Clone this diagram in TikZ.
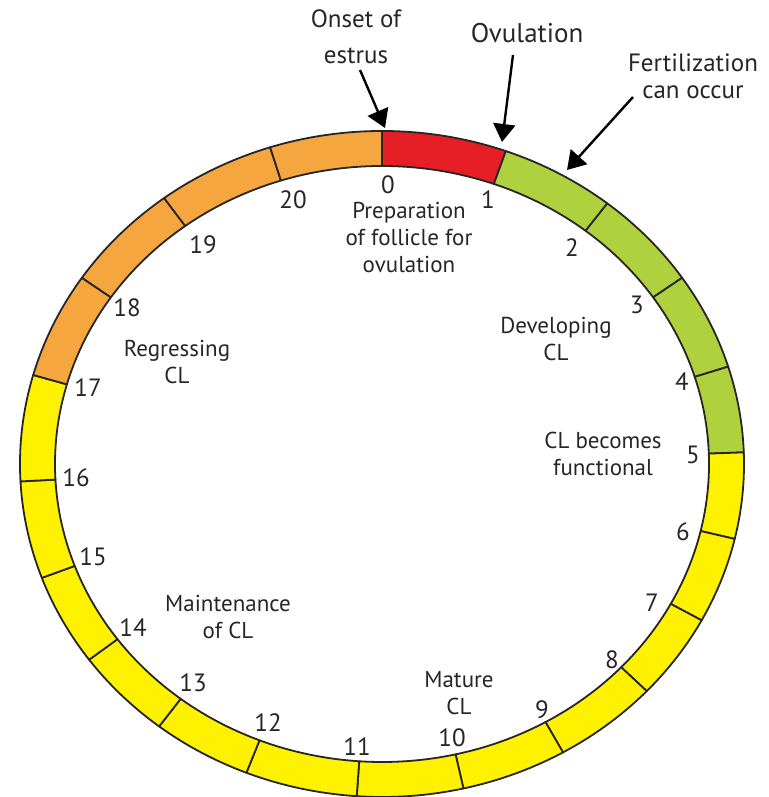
\documentclass[tikz,border=0pt]{standalone}
\usepackage{fontspec}
\setmainfont{PT Sans}
\usetikzlibrary{arrows.meta}

\definecolor{cred}{HTML}{E61E25}
\definecolor{cgreen}{HTML}{AFD13E}
\definecolor{cyellow}{HTML}{FFF200}
\definecolor{corange}{HTML}{F6A63F}

\tikzset{
	segline/.style={line width=0.9pt, draw=black!85},
	daylabel/.style={inner sep=0pt, font=\fontsize{12.5}{14}\selectfont, text=black!85},
	stagelabel/.style={inner sep=0pt, align=center, font=\fontsize{11.5}{13.5}\selectfont, text=black!85},
	eventlabel/.style={inner sep=0pt, align=center, font=\fontsize{12.5}{13.5}\selectfont, text=black!85},
	eventarrow/.style={line width=1.2pt, -{Triangle[length=9pt,width=11pt]}}
}

\begin{document}
\begin{tikzpicture}[x=0.5pt,y=0.5pt,line join=round]
	\def\cx{382}
	\def\cy{333}
	\def\ra{362}
	\def\rb{333}
	\def\ia{327}
	\def\ib{298}
	\useasboundingbox (0,0) rectangle (768,797);
	
	% ring of 21 days
	\foreach \s/\e/\c in {90/70/cred, 70/51.5/cgreen, 51.5/34/cgreen, 34/17/cgreen, 17/2/cgreen,
		2/-13/cyellow, -13/-28/cyellow, -28/-43/cyellow, -43/-60/cyellow, -60/-77/cyellow, -77/-94/cyellow,
		-94/-112/cyellow, -112/-128/cyellow, -128/-144/cyellow, -144/-160/cyellow, -160/-177/cyellow, -177/-195.5/cyellow,
		-195.5/-214/corange, -214/-233/corange, -233/-252/corange, -252/-270/corange}
	{
		\filldraw[fill=\c, segline] ({\cx+\ra*cos(\s)},{\cy+\rb*sin(\s)})
			arc[start angle=\s, end angle=\e, x radius=\ra, y radius=\rb]
			-- ({\cx+\ia*cos(\e)},{\cy+\ib*sin(\e)})
			arc[start angle=\e, end angle=\s, x radius=\ia, y radius=\ib] -- cycle;
	}
	
	% day numbers
	\foreach \n/\x/\y in {0/388/612, 1/488/597, 2/572/549, 3/637/492, 4/682/415, 5/693/342, 6/683/265,
		7/652/194, 8/612/137, 9/542/87, 10/452/59, 11/357/50, 12/268/74, 13/193/114, 14/133/169,
		15/93/240, 16/76/319, 17/88/409, 18/127/489, 19/203/552, 20/293/597}
	{
		\node[daylabel] (d\n) at (\x,\y) {\n};
	}
	
	% stages
	\node[stagelabel] (prep) at (409,559) {Preparation\\of follicle for\\ovulation};
	\node[stagelabel] (develop) at (556,458) {Developing\\CL};
	\node[stagelabel] (functional) at (603,343) {CL becomes\\functional};
	\node[stagelabel] (mature) at (459,104) {Mature\\CL};
	\node[stagelabel] (maint) at (228,180) {Maintenance\\of CL};
	\node[stagelabel] (regress) at (177,435) {Regressing\\CL};
	
	% events
	\node[eventlabel, font=\fontsize{12.5}{18}\selectfont] (onset) at (356,760) {Onset of\\estrus};
	\node[eventlabel, font=\fontsize{13.5}{14}\selectfont] (ovul) at (527,764) {Ovulation};
	\node[eventlabel] (fert) at (693,721) {Fertilization\\can occur};
	
	\coordinate (onsettail) at (360,727);
	\coordinate (onsettip) at (385,669);
	\coordinate (ovultail) at (513,742);
	\coordinate (ovultip) at (502,655);
	\coordinate (ferttail) at (633,700);
	\coordinate (ferttip) at (567,627);
	
	\draw[eventarrow] (onsettail) -- (onsettip);
	\draw[eventarrow] (ovultail) -- (ovultip);
	\draw[eventarrow] (ferttail) -- (ferttip);
	
\end{tikzpicture}
\end{document}
